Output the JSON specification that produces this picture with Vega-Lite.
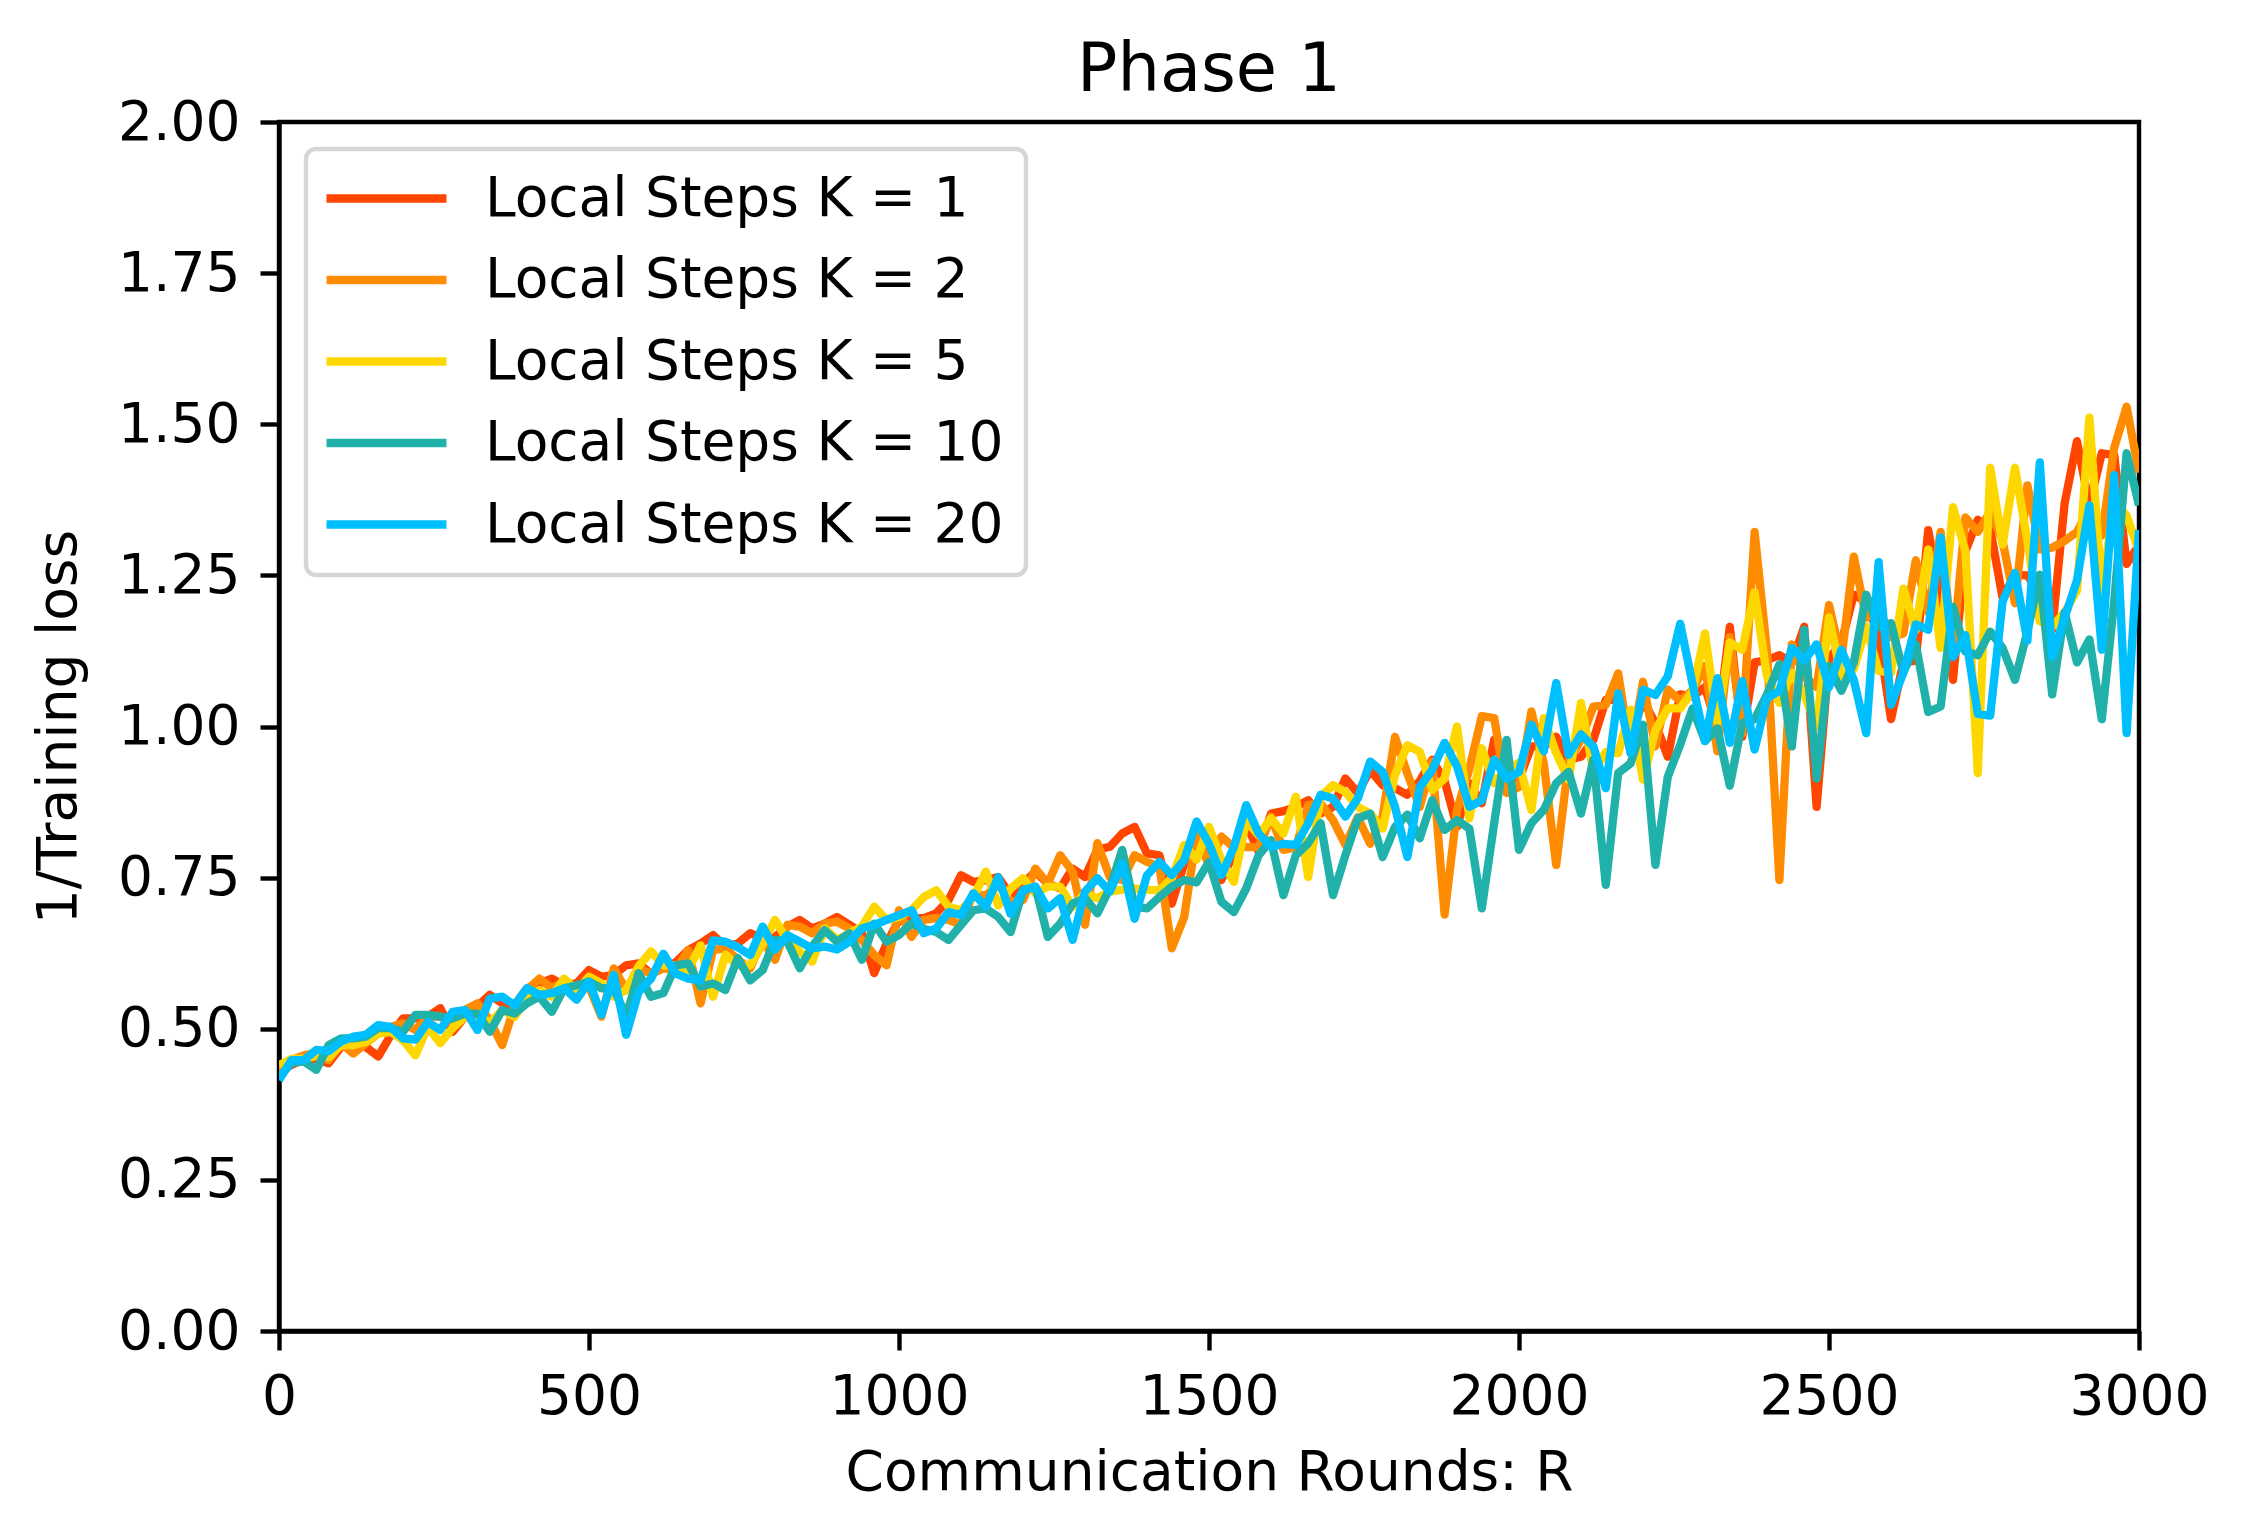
{
  "$schema": "https://vega.github.io/schema/vega-lite/v6.json",
  "autosize": {"type": "none"},
  "padding": {"left": 279, "top": 122, "right": 110, "bottom": 209},
  "width": 1860,
  "height": 1209,
  "background": "white",
  "title": {
    "text": "Phase 1",
    "font": "DejaVu Sans",
    "fontSize": 67,
    "fontWeight": "normal",
    "color": "black",
    "anchor": "middle",
    "frame": "group",
    "offset": -10
  },
  "data": {
    "values": [
      {"R": 0, "k1": 0.43, "k2": 0.43, "k5": 0.44, "k10": 0.42, "k20": 0.415},
      {"R": 20, "k1": 0.44, "k2": 0.448, "k5": 0.45, "k10": 0.443, "k20": 0.448},
      {"R": 40, "k1": 0.45, "k2": 0.456, "k5": 0.45, "k10": 0.446, "k20": 0.448},
      {"R": 60, "k1": 0.45, "k2": 0.46, "k5": 0.455, "k10": 0.432, "k20": 0.465},
      {"R": 80, "k1": 0.443, "k2": 0.448, "k5": 0.453, "k10": 0.473, "k20": 0.463},
      {"R": 100, "k1": 0.47, "k2": 0.476, "k5": 0.473, "k10": 0.484, "k20": 0.479},
      {"R": 120, "k1": 0.476, "k2": 0.459, "k5": 0.473, "k10": 0.484, "k20": 0.487},
      {"R": 140, "k1": 0.47, "k2": 0.476, "k5": 0.478, "k10": 0.487, "k20": 0.49},
      {"R": 160, "k1": 0.454, "k2": 0.492, "k5": 0.492, "k10": 0.501, "k20": 0.506},
      {"R": 180, "k1": 0.489, "k2": 0.503, "k5": 0.495, "k10": 0.501, "k20": 0.503},
      {"R": 200, "k1": 0.517, "k2": 0.509, "k5": 0.481, "k10": 0.495, "k20": 0.484},
      {"R": 220, "k1": 0.517, "k2": 0.498, "k5": 0.456, "k10": 0.523, "k20": 0.482},
      {"R": 240, "k1": 0.52, "k2": 0.52, "k5": 0.503, "k10": 0.523, "k20": 0.511},
      {"R": 260, "k1": 0.534, "k2": 0.52, "k5": 0.476, "k10": 0.52, "k20": 0.498},
      {"R": 280, "k1": 0.495, "k2": 0.51, "k5": 0.501, "k10": 0.517, "k20": 0.528},
      {"R": 300, "k1": 0.52, "k2": 0.531, "k5": 0.52, "k10": 0.525, "k20": 0.531},
      {"R": 320, "k1": 0.537, "k2": 0.542, "k5": 0.525, "k10": 0.525, "k20": 0.498},
      {"R": 340, "k1": 0.556, "k2": 0.514, "k5": 0.509, "k10": 0.495, "k20": 0.55},
      {"R": 360, "k1": 0.542, "k2": 0.473, "k5": 0.531, "k10": 0.531, "k20": 0.553},
      {"R": 380, "k1": 0.539, "k2": 0.537, "k5": 0.52, "k10": 0.525, "k20": 0.539},
      {"R": 400, "k1": 0.567, "k2": 0.564, "k5": 0.55, "k10": 0.542, "k20": 0.567},
      {"R": 420, "k1": 0.575, "k2": 0.583, "k5": 0.564, "k10": 0.553, "k20": 0.556},
      {"R": 440, "k1": 0.583, "k2": 0.567, "k5": 0.553, "k10": 0.528, "k20": 0.559},
      {"R": 460, "k1": 0.572, "k2": 0.578, "k5": 0.583, "k10": 0.567, "k20": 0.567},
      {"R": 480, "k1": 0.575, "k2": 0.564, "k5": 0.564, "k10": 0.572, "k20": 0.548},
      {"R": 500, "k1": 0.597, "k2": 0.57, "k5": 0.586, "k10": 0.578, "k20": 0.578},
      {"R": 520, "k1": 0.586, "k2": 0.52, "k5": 0.575, "k10": 0.567, "k20": 0.523},
      {"R": 540, "k1": 0.589, "k2": 0.6, "k5": 0.553, "k10": 0.567, "k20": 0.589},
      {"R": 560, "k1": 0.605, "k2": 0.564, "k5": 0.564, "k10": 0.52, "k20": 0.49},
      {"R": 580, "k1": 0.608, "k2": 0.6, "k5": 0.603, "k10": 0.592, "k20": 0.561},
      {"R": 600, "k1": 0.591, "k2": 0.591, "k5": 0.628, "k10": 0.553, "k20": 0.583},
      {"R": 620, "k1": 0.6, "k2": 0.6, "k5": 0.605, "k10": 0.559, "k20": 0.624},
      {"R": 640, "k1": 0.61, "k2": 0.597, "k5": 0.605, "k10": 0.605, "k20": 0.591},
      {"R": 660, "k1": 0.63, "k2": 0.63, "k5": 0.597, "k10": 0.608, "k20": 0.583},
      {"R": 680, "k1": 0.641, "k2": 0.542, "k5": 0.638, "k10": 0.57, "k20": 0.58},
      {"R": 700, "k1": 0.655, "k2": 0.63, "k5": 0.553, "k10": 0.575, "k20": 0.646},
      {"R": 720, "k1": 0.636, "k2": 0.633, "k5": 0.622, "k10": 0.564, "k20": 0.644},
      {"R": 740, "k1": 0.641, "k2": 0.614, "k5": 0.605, "k10": 0.617, "k20": 0.635},
      {"R": 760, "k1": 0.658, "k2": 0.6, "k5": 0.605, "k10": 0.58, "k20": 0.622},
      {"R": 780, "k1": 0.65, "k2": 0.647, "k5": 0.64, "k10": 0.597, "k20": 0.669},
      {"R": 800, "k1": 0.652, "k2": 0.614, "k5": 0.68, "k10": 0.647, "k20": 0.631},
      {"R": 820, "k1": 0.669, "k2": 0.672, "k5": 0.647, "k10": 0.644, "k20": 0.655},
      {"R": 840, "k1": 0.68, "k2": 0.669, "k5": 0.627, "k10": 0.6, "k20": 0.644},
      {"R": 860, "k1": 0.666, "k2": 0.658, "k5": 0.611, "k10": 0.636, "k20": 0.633},
      {"R": 880, "k1": 0.674, "k2": 0.674, "k5": 0.666, "k10": 0.663, "k20": 0.636},
      {"R": 900, "k1": 0.685, "k2": 0.677, "k5": 0.647, "k10": 0.644, "k20": 0.631},
      {"R": 920, "k1": 0.672, "k2": 0.666, "k5": 0.658, "k10": 0.658, "k20": 0.644},
      {"R": 940, "k1": 0.658, "k2": 0.647, "k5": 0.669, "k10": 0.614, "k20": 0.666},
      {"R": 960, "k1": 0.592, "k2": 0.622, "k5": 0.702, "k10": 0.674, "k20": 0.672},
      {"R": 980, "k1": 0.641, "k2": 0.605, "k5": 0.68, "k10": 0.644, "k20": 0.68},
      {"R": 1000, "k1": 0.68, "k2": 0.696, "k5": 0.685, "k10": 0.655, "k20": 0.688},
      {"R": 1020, "k1": 0.683, "k2": 0.652, "k5": 0.696, "k10": 0.674, "k20": 0.696},
      {"R": 1040, "k1": 0.683, "k2": 0.68, "k5": 0.718, "k10": 0.665, "k20": 0.658},
      {"R": 1060, "k1": 0.691, "k2": 0.683, "k5": 0.729, "k10": 0.66, "k20": 0.666},
      {"R": 1080, "k1": 0.713, "k2": 0.68, "k5": 0.702, "k10": 0.647, "k20": 0.693},
      {"R": 1100, "k1": 0.754, "k2": 0.672, "k5": 0.696, "k10": 0.672, "k20": 0.688},
      {"R": 1120, "k1": 0.743, "k2": 0.724, "k5": 0.718, "k10": 0.696, "k20": 0.724},
      {"R": 1140, "k1": 0.746, "k2": 0.72, "k5": 0.76, "k10": 0.699, "k20": 0.702},
      {"R": 1160, "k1": 0.751, "k2": 0.74, "k5": 0.704, "k10": 0.685, "k20": 0.751},
      {"R": 1180, "k1": 0.721, "k2": 0.71, "k5": 0.732, "k10": 0.66, "k20": 0.69},
      {"R": 1200, "k1": 0.74, "k2": 0.713, "k5": 0.749, "k10": 0.729, "k20": 0.729},
      {"R": 1220, "k1": 0.76, "k2": 0.765, "k5": 0.724, "k10": 0.735, "k20": 0.735},
      {"R": 1240, "k1": 0.74, "k2": 0.74, "k5": 0.735, "k10": 0.652, "k20": 0.699},
      {"R": 1260, "k1": 0.732, "k2": 0.787, "k5": 0.735, "k10": 0.674, "k20": 0.716},
      {"R": 1280, "k1": 0.765, "k2": 0.76, "k5": 0.702, "k10": 0.707, "k20": 0.647},
      {"R": 1300, "k1": 0.751, "k2": 0.672, "k5": 0.724, "k10": 0.716, "k20": 0.727},
      {"R": 1320, "k1": 0.796, "k2": 0.807, "k5": 0.716, "k10": 0.691, "k20": 0.749},
      {"R": 1340, "k1": 0.801, "k2": 0.751, "k5": 0.727, "k10": 0.732, "k20": 0.727},
      {"R": 1360, "k1": 0.823, "k2": 0.746, "k5": 0.73, "k10": 0.796, "k20": 0.773},
      {"R": 1380, "k1": 0.834, "k2": 0.787, "k5": 0.732, "k10": 0.702, "k20": 0.682},
      {"R": 1400, "k1": 0.79, "k2": 0.776, "k5": 0.73, "k10": 0.699, "k20": 0.754},
      {"R": 1420, "k1": 0.787, "k2": 0.768, "k5": 0.729, "k10": 0.718, "k20": 0.776},
      {"R": 1440, "k1": 0.707, "k2": 0.633, "k5": 0.749, "k10": 0.735, "k20": 0.754},
      {"R": 1460, "k1": 0.773, "k2": 0.685, "k5": 0.804, "k10": 0.746, "k20": 0.779},
      {"R": 1480, "k1": 0.8, "k2": 0.82, "k5": 0.78, "k10": 0.742, "k20": 0.843},
      {"R": 1500, "k1": 0.79, "k2": 0.77, "k5": 0.834, "k10": 0.776, "k20": 0.806},
      {"R": 1520, "k1": 0.746, "k2": 0.818, "k5": 0.779, "k10": 0.71, "k20": 0.754},
      {"R": 1540, "k1": 0.79, "k2": 0.8, "k5": 0.743, "k10": 0.693, "k20": 0.8},
      {"R": 1560, "k1": 0.84, "k2": 0.801, "k5": 0.845, "k10": 0.732, "k20": 0.87},
      {"R": 1580, "k1": 0.793, "k2": 0.8, "k5": 0.82, "k10": 0.787, "k20": 0.823},
      {"R": 1600, "k1": 0.856, "k2": 0.851, "k5": 0.848, "k10": 0.812, "k20": 0.801},
      {"R": 1620, "k1": 0.86, "k2": 0.796, "k5": 0.823, "k10": 0.721, "k20": 0.806},
      {"R": 1640, "k1": 0.867, "k2": 0.8, "k5": 0.884, "k10": 0.787, "k20": 0.804},
      {"R": 1660, "k1": 0.878, "k2": 0.87, "k5": 0.751, "k10": 0.807, "k20": 0.84},
      {"R": 1680, "k1": 0.856, "k2": 0.873, "k5": 0.884, "k10": 0.84, "k20": 0.887},
      {"R": 1700, "k1": 0.867, "k2": 0.845, "k5": 0.903, "k10": 0.721, "k20": 0.881},
      {"R": 1720, "k1": 0.914, "k2": 0.804, "k5": 0.892, "k10": 0.787, "k20": 0.851},
      {"R": 1740, "k1": 0.89, "k2": 0.85, "k5": 0.867, "k10": 0.848, "k20": 0.881},
      {"R": 1760, "k1": 0.928, "k2": 0.806, "k5": 0.856, "k10": 0.856, "k20": 0.942},
      {"R": 1780, "k1": 0.903, "k2": 0.851, "k5": 0.831, "k10": 0.784, "k20": 0.925},
      {"R": 1800, "k1": 0.898, "k2": 0.983, "k5": 0.92, "k10": 0.834, "k20": 0.867},
      {"R": 1820, "k1": 0.887, "k2": 0.922, "k5": 0.969, "k10": 0.854, "k20": 0.784},
      {"R": 1840, "k1": 0.91, "k2": 0.867, "k5": 0.958, "k10": 0.815, "k20": 0.9},
      {"R": 1860, "k1": 0.945, "k2": 0.942, "k5": 0.895, "k10": 0.878, "k20": 0.928},
      {"R": 1880, "k1": 0.91, "k2": 0.689, "k5": 0.914, "k10": 0.829, "k20": 0.973},
      {"R": 1900, "k1": 0.834, "k2": 0.862, "k5": 1.0, "k10": 0.845, "k20": 0.934},
      {"R": 1920, "k1": 0.906, "k2": 0.93, "k5": 0.848, "k10": 0.831, "k20": 0.867},
      {"R": 1940, "k1": 0.873, "k2": 1.017, "k5": 0.964, "k10": 0.699, "k20": 0.878},
      {"R": 1960, "k1": 0.978, "k2": 1.014, "k5": 0.906, "k10": 0.84, "k20": 0.945},
      {"R": 1980, "k1": 0.928, "k2": 0.89, "k5": 0.93, "k10": 0.978, "k20": 0.914},
      {"R": 2000, "k1": 0.912, "k2": 0.9, "k5": 0.94, "k10": 0.796, "k20": 0.925},
      {"R": 2020, "k1": 0.967, "k2": 1.025, "k5": 0.862, "k10": 0.84, "k20": 1.003},
      {"R": 2040, "k1": 0.967, "k2": 0.939, "k5": 1.014, "k10": 0.862, "k20": 0.959},
      {"R": 2060, "k1": 0.983, "k2": 0.771, "k5": 0.956, "k10": 0.906, "k20": 1.072},
      {"R": 2080, "k1": 0.945, "k2": 0.942, "k5": 0.912, "k10": 0.925, "k20": 0.953},
      {"R": 2100, "k1": 0.95, "k2": 0.978, "k5": 1.039, "k10": 0.856, "k20": 0.987},
      {"R": 2120, "k1": 0.978, "k2": 1.033, "k5": 0.925, "k10": 0.945, "k20": 0.967},
      {"R": 2140, "k1": 1.044, "k2": 1.036, "k5": 0.958, "k10": 0.738, "k20": 0.898},
      {"R": 2160, "k1": 1.044, "k2": 1.088, "k5": 0.956, "k10": 0.923, "k20": 1.055},
      {"R": 2180, "k1": 0.98, "k2": 0.956, "k5": 1.028, "k10": 0.939, "k20": 0.956},
      {"R": 2200, "k1": 1.044, "k2": 1.074, "k5": 0.912, "k10": 1.003, "k20": 1.061},
      {"R": 2220, "k1": 1.005, "k2": 0.967, "k5": 0.994, "k10": 0.771, "k20": 1.052},
      {"R": 2240, "k1": 0.95, "k2": 1.061, "k5": 1.03, "k10": 0.917, "k20": 1.083},
      {"R": 2260, "k1": 1.053, "k2": 1.042, "k5": 1.03, "k10": 0.97, "k20": 1.17},
      {"R": 2280, "k1": 1.05, "k2": 1.06, "k5": 1.059, "k10": 1.03, "k20": 1.07},
      {"R": 2300, "k1": 1.065, "k2": 1.1, "k5": 1.154, "k10": 0.976, "k20": 0.976},
      {"R": 2320, "k1": 0.997, "k2": 0.959, "k5": 1.006, "k10": 0.997, "k20": 1.08},
      {"R": 2340, "k1": 1.165, "k2": 1.148, "k5": 1.139, "k10": 0.902, "k20": 0.973},
      {"R": 2360, "k1": 0.983, "k2": 0.989, "k5": 1.127, "k10": 1.006, "k20": 1.075},
      {"R": 2380, "k1": 1.106, "k2": 1.322, "k5": 1.222, "k10": 1.012, "k20": 0.962},
      {"R": 2400, "k1": 1.11, "k2": 1.124, "k5": 1.083, "k10": 1.053, "k20": 1.047},
      {"R": 2420, "k1": 1.118, "k2": 0.746, "k5": 1.039, "k10": 1.103, "k20": 1.059},
      {"R": 2440, "k1": 1.106, "k2": 1.136, "k5": 1.089, "k10": 0.967, "k20": 1.13},
      {"R": 2460, "k1": 1.165, "k2": 1.083, "k5": 1.053, "k10": 1.16, "k20": 1.109},
      {"R": 2480, "k1": 0.867, "k2": 1.065, "k5": 1.0, "k10": 0.914, "k20": 1.136},
      {"R": 2500, "k1": 1.112, "k2": 1.201, "k5": 1.18, "k10": 1.1, "k20": 1.065},
      {"R": 2520, "k1": 1.139, "k2": 1.112, "k5": 1.083, "k10": 1.059, "k20": 1.127},
      {"R": 2540, "k1": 1.218, "k2": 1.281, "k5": 1.095, "k10": 1.106, "k20": 1.077},
      {"R": 2560, "k1": 1.207, "k2": 1.18, "k5": 1.165, "k10": 1.218, "k20": 0.989},
      {"R": 2580, "k1": 1.15, "k2": 1.195, "k5": 1.092, "k10": 1.165, "k20": 1.272},
      {"R": 2600, "k1": 1.012, "k2": 1.148, "k5": 1.089, "k10": 1.171, "k20": 1.036},
      {"R": 2620, "k1": 1.106, "k2": 1.154, "k5": 1.228, "k10": 1.089, "k20": 1.089},
      {"R": 2640, "k1": 1.109, "k2": 1.275, "k5": 1.16, "k10": 1.136, "k20": 1.169},
      {"R": 2660, "k1": 1.325, "k2": 1.189, "k5": 1.293, "k10": 1.024, "k20": 1.16},
      {"R": 2680, "k1": 1.213, "k2": 1.322, "k5": 1.13, "k10": 1.033, "k20": 1.313},
      {"R": 2700, "k1": 1.077, "k2": 1.127, "k5": 1.363, "k10": 1.198, "k20": 1.115},
      {"R": 2720, "k1": 1.29, "k2": 1.346, "k5": 1.29, "k10": 1.124, "k20": 1.151},
      {"R": 2740, "k1": 1.342, "k2": 1.322, "k5": 0.923, "k10": 1.118, "k20": 1.021},
      {"R": 2760, "k1": 1.327, "k2": 1.355, "k5": 1.428, "k10": 1.157, "k20": 1.018},
      {"R": 2780, "k1": 1.213, "k2": 1.307, "k5": 1.301, "k10": 1.13, "k20": 1.207},
      {"R": 2800, "k1": 1.251, "k2": 1.204, "k5": 1.428, "k10": 1.077, "k20": 1.254},
      {"R": 2820, "k1": 1.25, "k2": 1.399, "k5": 1.307, "k10": 1.157, "k20": 1.142},
      {"R": 2840, "k1": 1.22, "k2": 1.293, "k5": 1.174, "k10": 1.251, "k20": 1.437},
      {"R": 2860, "k1": 1.16, "k2": 1.296, "k5": 1.165, "k10": 1.053, "k20": 1.115},
      {"R": 2880, "k1": 1.369, "k2": 1.307, "k5": 1.189, "k10": 1.189, "k20": 1.18},
      {"R": 2900, "k1": 1.472, "k2": 1.322, "k5": 1.225, "k10": 1.106, "k20": 1.242},
      {"R": 2920, "k1": 1.366, "k2": 1.361, "k5": 1.511, "k10": 1.144, "k20": 1.366},
      {"R": 2940, "k1": 1.452, "k2": 1.316, "k5": 1.225, "k10": 1.012, "k20": 1.127},
      {"R": 2960, "k1": 1.449, "k2": 1.461, "k5": 1.372, "k10": 1.207, "k20": 1.416},
      {"R": 2980, "k1": 1.269, "k2": 1.529, "k5": 1.349, "k10": 1.452, "k20": 0.989},
      {"R": 3000, "k1": 1.3, "k2": 1.42, "k5": 1.29, "k10": 1.366, "k20": 1.325}
    ]
  },
  "transform": [
    {"fold": ["k1", "k2", "k5", "k10", "k20"], "as": ["series", "loss"]}
  ],
  "mark": {"type": "line", "strokeWidth": 8.3, "strokeJoin": "round", "clip": true},
  "encoding": {
    "x": {
      "field": "R",
      "type": "quantitative",
      "title": "Communication Rounds: R",
      "scale": {"domain": [0, 3000], "nice": false, "zero": false},
      "axis": {"values": [0, 500, 1000, 1500, 2000, 2500, 3000], "format": "d", "labelFlush": false, "titlePadding": 22}
    },
    "y": {
      "field": "loss",
      "type": "quantitative",
      "title": "1/Training loss",
      "scale": {"domain": [0, 2], "nice": false},
      "axis": {"values": [0, 0.25, 0.5, 0.75, 1, 1.25, 1.5, 1.75, 2], "format": ".2f", "labelFlush": false, "titlePadding": 30}
    },
    "color": {
      "field": "series",
      "type": "nominal",
      "scale": {
        "domain": ["k1", "k2", "k5", "k10", "k20"],
        "range": ["#ff4500", "#ff8c00", "#ffd700", "#20b2aa", "#00bfff"]
      },
      "legend": {
        "title": null,
        "orient": "top-left",
        "offset": 27,
        "labelExpr": "'Local Steps K = ' + slice(datum.label, 1)",
        "labelLimit": 2000,
        "symbolType": "M-1.45,0H4.55",
        "symbolSize": 1600,
        "symbolStrokeWidth": 8.3,
        "labelOffset": 102,
        "rowPadding": 25.5,
        "padding": 22,
        "strokeColor": "#d6d6d6",
        "cornerRadius": 10,
        "fillColor": "white",
        "encode": {"legend": {"update": {"strokeWidth": {"value": 4.4}}}}
      }
    }
  },
  "config": {
    "font": "DejaVu Sans",
    "view": {"stroke": "black", "strokeWidth": 4.4},
    "axis": {
      "grid": false,
      "domainColor": "black",
      "domainWidth": 4.4,
      "tickColor": "black",
      "tickWidth": 4.4,
      "tickSize": 19,
      "labelFont": "DejaVu Sans",
      "labelFontSize": 55,
      "labelColor": "black",
      "labelPadding": 20,
      "titleFont": "DejaVu Sans",
      "titleFontSize": 55,
      "titleFontWeight": "normal",
      "titleColor": "black"
    },
    "legend": {
      "labelFont": "DejaVu Sans",
      "labelFontSize": 55,
      "labelColor": "black"
    }
  }
}
